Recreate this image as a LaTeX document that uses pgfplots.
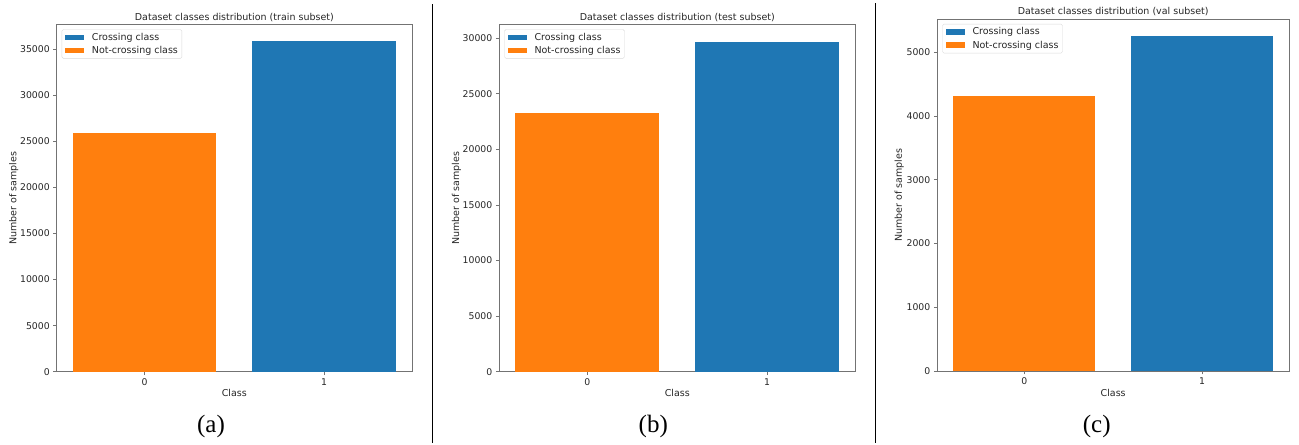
\documentclass[border=0pt]{standalone}
\usepackage{fontspec}
\setmainfont{DejaVu Sans}
\newfontfamily\capfont{Liberation Serif}
\usepackage{pgfplots}
\pgfplotsset{compat=1.18}
\definecolor{mblue}{HTML}{1F77B4}
\definecolor{morange}{HTML}{FF7F0E}
\pgfplotsset{
  panel/.style={
    scale only axis,
    anchor=south west,
    xmin=-0.49, xmax=1.49, ymin=0,
    xtick={0,1},
    axis line style={black!55, line width=0.8bp},
    tick style={black!55, line width=0.8bp},
    tick align=outside,
    major tick length=3.5bp,
    xtick pos=bottom, ytick pos=left,
    scaled y ticks=false,
    /pgf/number format/assume math mode=true,
    yticklabel style={/pgf/number format/fixed,/pgf/number format/1000 sep={}},
    tick label style={font=\fontsize{9.3bp}{11bp}\selectfont, text=black!85},
    label style={font=\fontsize{9.5bp}{11bp}\selectfont, text=black!85},
    every axis title shift=0pt,
    title style={font=\fontsize{9.5bp}{11bp}\selectfont, text=black!85, anchor=center, at={(axis description cs:0.5,1)}, yshift=7bp, inner sep=0pt},
    legend style={at={(axis description cs:0,1)}, anchor=north west, xshift=5bp, yshift=-5bp, draw=black!15, rounded corners=1.5bp, font=\fontsize{9.5bp}{11bp}\selectfont, text=black!85, row sep=3.5bp, column sep=7bp, inner xsep=3.5bp, inner ysep=3bp, nodes={inner sep=0.5bp}},
    legend cell align=left,
    bar width=0.8,
    xlabel=Class, ylabel=Number of samples,
  },
  bars/.style={ybar, bar shift=0pt, draw=none, fill=#1, legend image code/.code={\fill[#1, sharp corners] (0bp,-2.8bp) rectangle (19bp,2.8bp);}},
}
\begin{document}
\begin{tikzpicture}
\useasboundingbox (0,0) rectangle (1299bp,445bp);
\begin{axis}[panel, at={(56.7bp,73.3bp)}, width=355.3bp, height=347.4bp, ymax=37700, ytick={0,5000,...,35000},
  title={Dataset classes distribution (train subset)},
  xlabel style={at={(axis description cs:0.5,-0.061)},anchor=center},
  ylabel style={at={(axis description cs:-0.121,0.5)},anchor=center}]
\addplot[bars=mblue] coordinates {(1,35870)};
\addlegendentry{Crossing class}
\addplot[bars=morange] coordinates {(0,25910)};
\addlegendentry{Not-crossing class}
\end{axis}
\begin{axis}[panel, at={(499.3bp,73.3bp)}, width=356bp, height=347.4bp, ymax=31250, ytick={0,5000,...,30000},
  title={Dataset classes distribution (test subset)},
  xlabel style={at={(axis description cs:0.5,-0.061)},anchor=center},
  ylabel style={at={(axis description cs:-0.12,0.5)},anchor=center}]
\addplot[bars=mblue] coordinates {(1,29690)};
\addlegendentry{Crossing class}
\addplot[bars=morange] coordinates {(0,23250)};
\addlegendentry{Not-crossing class}
\end{axis}
\begin{axis}[panel, at={(937.3bp,74bp)}, width=351.7bp, height=352bp, ymax=5520, ytick={0,1000,...,5000},
  title={Dataset classes distribution (val subset)},
  xlabel style={at={(axis description cs:0.5,-0.063)},anchor=center},
  ylabel style={at={(axis description cs:-0.108,0.5)},anchor=center}]
\addplot[bars=mblue] coordinates {(1,5256)};
\addlegendentry{Crossing class}
\addplot[bars=morange] coordinates {(0,4320)};
\addlegendentry{Not-crossing class}
\end{axis}
\draw[line width=1.3bp] (432.3bp,2bp) -- (432.3bp,441bp);
\draw[line width=1.3bp] (875.7bp,2bp) -- (875.7bp,442bp);
\node[font=\capfont\fontsize{25bp}{30bp}\selectfont, anchor=base] at (211bp,12.5bp) {(a)};
\node[font=\capfont\fontsize{25bp}{30bp}\selectfont, anchor=base] at (653.3bp,12.5bp) {(b)};
\node[font=\capfont\fontsize{25bp}{30bp}\selectfont, anchor=base] at (1096.7bp,12.5bp) {(c)};
\end{tikzpicture}
\end{document}
